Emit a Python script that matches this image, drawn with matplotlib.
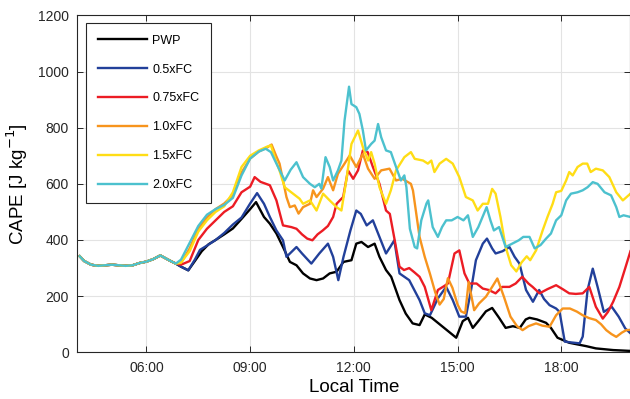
import numpy as np
import matplotlib
matplotlib.use("Agg")
import matplotlib.pyplot as plt

plt.rcParams['font.family'] = ['Liberation Sans', 'DejaVu Sans']

# shared spin-up period (all runs identical before ~07:00), hours / J kg-1
spin_t = [4.07, 4.2, 4.4, 4.6, 4.8, 5.0, 5.2, 5.4, 5.6, 5.8, 6.0, 6.2, 6.4, 6.55, 6.7, 6.85]
spin_v = [342, 325, 312, 308, 310, 312, 310, 308, 310, 318, 323, 332, 345, 335, 325, 316]

pwp_t = [7.0, 7.21, 7.4, 7.6, 7.8, 8.0, 8.25, 8.5, 8.75, 9.0, 9.17, 9.4, 9.57, 9.76, 9.95,
         10.15, 10.34, 10.53, 10.73, 10.92, 11.11, 11.3, 11.5, 11.7, 11.93, 12.07, 12.22, 12.41,
         12.6, 12.74, 12.93, 13.08, 13.32, 13.5, 13.7, 13.9, 14.05, 14.25, 14.43, 14.67, 14.96,
         15.15, 15.3, 15.44, 15.6, 15.82, 16.0, 16.2, 16.39, 16.6, 16.8, 16.97, 17.08, 17.3,
         17.56, 17.7, 17.89, 18.23, 18.72, 19.0, 19.5, 20.0]
pwp_v = [305, 292, 325, 360, 385, 400, 420, 441, 475, 510, 535, 482, 458, 423, 375,
         322, 310, 281, 263, 257, 263, 281, 287, 322, 328, 387, 393, 375,
         387, 340, 293, 269, 186, 138, 103, 97, 135, 123, 105, 81, 52,
         111, 123, 87, 111, 146, 158, 123, 87, 93, 87, 117, 123, 117,
         105, 87, 52, 34, 22, 14, 8, 5]

fc05_t = [7.0, 7.21, 7.4, 7.55, 7.75, 8.0, 8.25, 8.5, 8.75, 9.0, 9.2, 9.4, 9.57, 9.76, 9.95,
          10.05, 10.15, 10.34, 10.5, 10.77, 11.0, 11.25, 11.4, 11.55, 11.7, 11.9, 12.07, 12.2,
          12.37, 12.55, 12.74, 12.93, 13.05, 13.17, 13.32, 13.6, 13.9, 14.05, 14.2, 14.43, 14.67,
          14.86, 15.05, 15.24, 15.39, 15.53, 15.73, 15.85, 16.0, 16.1, 16.3, 16.5, 16.65, 16.79,
          16.98, 17.18, 17.36, 17.5, 17.66, 17.85, 17.95, 18.1, 18.3, 18.53, 18.62, 18.76, 18.91,
          19.05, 19.23, 19.46, 19.66, 19.85, 20.0]
fc05_v = [305, 292, 330, 365, 380, 400, 425, 455, 480, 530, 567, 529, 482, 434, 399,
          340, 352, 375, 352, 316, 352, 387, 340, 257, 340, 434, 505, 493,
          452, 470, 411, 352, 375, 399, 281, 257, 186, 139, 132, 192, 233,
          186, 127, 127, 222, 328, 387, 405, 370, 352, 360, 375, 340, 316,
          222, 180, 222, 190, 168, 156, 144, 38, 35, 32, 56, 222, 298,
          233, 144, 162, 127, 85, 68]

fc075_t = [7.0, 7.25, 7.5, 7.75, 8.0, 8.25, 8.5, 8.75, 9.0, 9.13, 9.3, 9.57, 9.76, 9.95, 10.19,
           10.34, 10.5, 10.65, 10.8, 10.95, 11.1, 11.25, 11.4, 11.5, 11.69, 11.83, 11.98, 12.12,
           12.26, 12.4, 12.55, 12.74, 12.93, 13.04, 13.18, 13.32, 13.45, 13.6, 13.75, 13.9, 14.05,
           14.24, 14.43, 14.6, 14.72, 14.91, 15.05, 15.2, 15.34, 15.55, 15.73, 15.9, 16.1, 16.29,
           16.5, 16.68, 16.87, 17.05, 17.17, 17.37, 17.6, 17.85, 18.04, 18.23, 18.42, 18.62, 18.81,
           19.0, 19.2, 19.35, 19.5, 19.68, 19.85, 20.0]
fc075_v = [312, 325, 400, 440, 470, 500, 520, 570, 590, 624, 607, 595, 541, 452, 446,
           440, 420, 405, 399, 420, 434, 450, 482, 529, 553, 648, 618, 648,
           719, 713, 660, 600, 505, 493, 400, 305, 293, 300, 285, 269, 233,
           150, 222, 235, 245, 352, 363, 281, 245, 245, 227, 222, 210, 233,
           233, 245, 269, 245, 233, 210, 225, 239, 225, 210, 208, 210, 233,
           162, 120, 144, 180, 233, 300, 360]

fc10_t = [7.0, 7.25, 7.5, 7.75, 8.0, 8.25, 8.5, 8.75, 9.0, 9.25, 9.5, 9.62, 9.75, 9.85, 10.05,
          10.15, 10.29, 10.4, 10.53, 10.73, 10.82, 10.92, 11.11, 11.25, 11.4, 11.54, 11.73, 11.88,
          12.07, 12.26, 12.41, 12.6, 12.79, 13.03, 13.22, 13.4, 13.65, 13.71, 13.9, 14.05, 14.2,
          14.35, 14.48, 14.6, 14.72, 14.85, 15.0, 15.1, 15.22, 15.32, 15.4, 15.48, 15.62, 15.82,
          16.0, 16.15, 16.34, 16.53, 16.72, 16.88, 17.05, 17.27, 17.45, 17.66, 17.85, 18.04, 18.25,
          18.45, 18.62, 18.8, 19.0, 19.15, 19.3, 19.45, 19.59, 19.75, 19.88, 20.0]
fc10_v = [318, 370, 440, 480, 510, 530, 560, 640, 690, 715, 730, 740, 700, 672, 553,
          517, 523, 494, 517, 529, 577, 553, 583, 624, 577, 636, 672, 701,
          660, 707, 654, 618, 648, 654, 612, 618, 600, 576, 411, 340, 280,
          215, 170, 190, 264, 230, 170, 146, 139, 250, 200, 150, 174, 198,
          233, 263, 198, 127, 93, 79, 93, 103, 95, 91, 132, 156, 156,
          145, 132, 122, 115, 100, 79, 65, 55, 70, 79, 80]

fc15_t = [7.0, 7.25, 7.5, 7.75, 8.0, 8.25, 8.5, 8.75, 9.0, 9.25, 9.5, 9.6, 9.75, 9.85, 10.0,
          10.24, 10.43, 10.53, 10.73, 10.92, 11.11, 11.3, 11.5, 11.64, 11.78, 11.93, 12.12, 12.26,
          12.41, 12.5, 12.6, 12.74, 12.93, 13.07, 13.22, 13.46, 13.65, 13.76, 14.0, 14.14, 14.24,
          14.33, 14.48, 14.67, 14.86, 15.05, 15.24, 15.44, 15.58, 15.73, 15.88, 16.0, 16.1, 16.24,
          16.39, 16.55, 16.7, 16.85, 17.0, 17.1, 17.27, 17.46, 17.6, 17.75, 17.85, 18.0, 18.14,
          18.23, 18.33, 18.47, 18.62, 18.75, 18.85, 19.0, 19.2, 19.39, 19.59, 19.78, 20.0]
fc15_v = [320, 360, 430, 470, 500, 520, 570, 660, 700, 719, 733, 737, 680, 647, 588,
          565, 547, 529, 541, 505, 565, 541, 517, 505, 612, 742, 790, 731,
          683, 713, 672, 588, 529, 577, 648, 695, 713, 689, 683, 672, 683,
          642, 672, 689, 672, 624, 553, 541, 505, 529, 529, 582, 565, 482,
          375, 310, 288, 320, 342, 328, 363, 434, 482, 529, 570, 575, 612,
          642, 630, 660, 672, 672, 642, 654, 648, 624, 570, 541, 565]

fc20_t = [7.0, 7.25, 7.5, 7.75, 8.0, 8.25, 8.5, 8.75, 9.0, 9.25, 9.45, 9.6, 9.76, 10.0, 10.17,
          10.34, 10.53, 10.73, 10.87, 11.0, 11.06, 11.18, 11.3, 11.4, 11.54, 11.64, 11.73, 11.86,
          11.93, 12.07, 12.16, 12.26, 12.35, 12.5, 12.6, 12.7, 12.79, 12.93, 13.07, 13.22, 13.36,
          13.46, 13.52, 13.62, 13.76, 13.83, 13.95, 14.1, 14.15, 14.28, 14.43, 14.55, 14.67, 14.83,
          15.0, 15.17, 15.3, 15.44, 15.6, 15.84, 15.95, 16.05, 16.2, 16.39, 16.58, 16.77, 16.9,
          17.08, 17.23, 17.4, 17.56, 17.7, 17.85, 18.0, 18.14, 18.28, 18.47, 18.62, 18.76, 18.91,
          19.05, 19.25, 19.44, 19.59, 19.68, 19.8, 20.0]
fc20_v = [330, 390, 450, 490, 510, 525, 550, 630, 690, 715, 725, 713, 672, 612, 650,
          677, 624, 600, 588, 600, 583, 695, 660, 612, 648, 683, 825, 946,
          884, 873, 849, 790, 719, 742, 754, 813, 766, 719, 713, 660, 612,
          630, 588, 440, 375, 370, 470, 530, 541, 446, 411, 446, 470, 470,
          482, 470, 488, 411, 446, 517, 470, 434, 446, 375, 387, 399, 411,
          411, 370, 382, 405, 423, 470, 488, 541, 565, 570, 577, 588, 606,
          600, 570, 559, 517, 482, 488, 482]

labels = ['PWP', '0.5xFC', '0.75xFC', '1.0xFC', '1.5xFC', '2.0xFC']
colors = ['#000000', '#22409a', '#ec1c24', '#f7941d', '#ffdd15', '#4cc1ce']
series = [(pwp_t, pwp_v), (fc05_t, fc05_v), (fc075_t, fc075_v),
          (fc10_t, fc10_v), (fc15_t, fc15_v), (fc20_t, fc20_v)]

tick_hours = [6, 9, 12, 15, 18]
tick_labels = ['06:00', '09:00', '12:00', '15:00', '18:00']

fig = plt.figure(figsize=(6.3, 3.99), dpi=100)
ax = fig.add_axes([0.1227, 0.117, 0.878, 0.8445])

for (t, v), lab, c in zip(series, labels, colors):
    ax.plot(np.r_[spin_t, t], np.r_[spin_v, v], color=c, lw=1.7, label=lab,
            solid_joinstyle='round')

ax.set_xlim(4, 20)
ax.set_ylim(0, 1200)
ax.set_xticks(tick_hours)
ax.set_xticklabels(tick_labels)
ax.set_yticks(np.arange(0, 1201, 200))
ax.grid(True, color='#e3e3e3', lw=0.8)
ax.set_axisbelow(True)
ax.tick_params(direction='in', top=True, right=True, length=4, width=0.7,
               labelsize=10, colors='#262626', pad=6)
for s in ax.spines.values():
    s.set_color('#262626')
    s.set_linewidth(0.8)

ax.set_xlabel('Local Time', fontsize=13.5, color='#000000', labelpad=3)
ax.set_ylabel('CAPE [J kg$^{-1}$]', fontsize=13.5, color='#000000', labelpad=6)

leg = ax.legend(loc='upper left', bbox_to_anchor=(0.0158, 0.978, 0.226, 0.0),
                mode='expand', borderaxespad=0, fontsize=9, handlelength=3.9,
                handletextpad=0.45, labelspacing=1.35, borderpad=0.95,
                fancybox=False, edgecolor='#262626', framealpha=1)
leg.get_frame().set_linewidth(0.8)

fig.savefig('out.png', dpi=100)
